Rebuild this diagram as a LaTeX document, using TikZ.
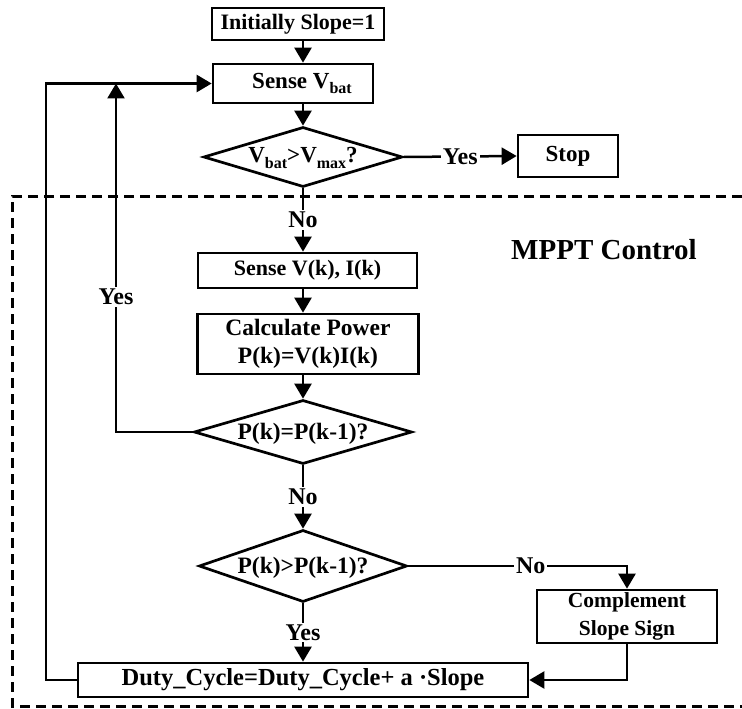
\documentclass[tikz,border=0pt]{standalone}
\usepackage{fontspec}
\setmainfont{Liberation Serif}
\usetikzlibrary{arrows.meta,shapes.geometric}
\newcommand{\mysub}[1]{\raisebox{-0.55ex}{\fontsize{16pt}{16pt}\selectfont #1}}
\newcommand{\fs}[1]{\fontsize{#1}{28pt}\selectfont\bfseries}
\begin{document}
\begin{tikzpicture}[x=1pt,y=-1pt,
  box/.style={draw, line width=2.7pt, rectangle, inner sep=0pt, align=center, font=\fs{23pt}},
  dec/.style={draw, diamond, line width=2.7pt, inner sep=0pt},
  dtext/.style={inner sep=0pt, font=\fs{23.5pt}},
  conn/.style={line width=2.5pt},
  arr/.style={conn, -{Triangle[length=15pt,width=17pt]}},
  lab/.style={fill=white, inner sep=2pt, font=\fs{24pt}},
  frame/.style={line width=3pt, dash pattern=on 10pt off 6pt},
]
\useasboundingbox (0,0) rectangle (742,709);
% dashed MPPT frame
\draw[frame] (742,196) -- (12,196) -- (12,706) -- (742,706);

\node[box, font=\fs{22pt}, minimum width=172pt, minimum height=32pt] (init) at (298,24) {Initially Slope=1};
\node[box, minimum width=160pt, minimum height=39pt] (sv) at (293,83.5) {\hspace*{18pt}Sense V\mysub{bat}};
\node[dec, minimum width=199pt, minimum height=60pt] (d0) at (303,157) {};
\node[dtext, font=\fs{23pt}] (d0t) at ([yshift=-1pt]d0.center) {V\mysub{bat}>V\mysub{max}?};
\node[box, minimum width=100pt, minimum height=42pt] (stop) at (568,156) {Stop};
\node[box, font=\fs{22pt}, minimum width=219pt, minimum height=35pt] (svi) at (307.5,270.5) {Sense V(k), I(k)};
\node[box, font=\fs{23.5pt}, minimum width=221pt, minimum height=60pt] (calc) at (308,344) {Calculate Power\\P(k)=V(k)I(k)};
\node[dec, minimum width=218pt, minimum height=64pt] (d1) at (303,432) {};
\node[dtext] (d1t) at ([yshift=-2pt]d1.center) {P(k)=P(k-1)?};
\node[dec, minimum width=208pt, minimum height=72pt] (d2) at (303,566) {};
\node[dtext] (d2t) at ([yshift=-2pt]d2.center) {P(k)>P(k-1)?};
\node[box, font=\fs{21.5pt}, minimum width=180pt, minimum height=53pt] (comp) at (627,616.5) {Complement\\Slope Sign};
\node[box, font=\fs{24.5pt}, minimum width=450pt, minimum height=34pt] (duty) at (303,680) {Duty\_Cycle=Duty\_Cycle+ a ·Slope};
\node[font=\fs{29pt}] (mppt) at (604,250) {MPPT Control};

\coordinate (lx) at (46,0);
\coordinate (yx) at (116,0);

\draw[arr] (init.south -| d1.north) -- (sv.north -| d1.north);
\draw[arr] (sv.south -| d1.north) -- (d0.north);
\draw[arr] (d0.east) -- node[lab] (yes0) {Yes} (stop.west);
\draw[arr] (d0.south) -- node[lab] (no0) {No} (svi.north -| d0.south);
\draw[arr] (svi.south -| d1.north) -- (calc.north -| d1.north);
\draw[arr] (calc.south -| d1.north) -- (d1.north);
\draw[arr] (d1.south) -- node[lab] (no1) {No} (d2.north);
\draw[arr] (d2.south) -- node[lab] (yes2) {Yes} (duty.north -| d2.south);
\draw[arr] (d2.east) -| node[lab, pos=0.28] (no2) {No} (comp.north);
\draw[arr] (comp.south) |- (duty.east);
\draw[arr] (duty.west) -- (duty.west -| lx) -- (sv.west -| lx) -- (sv.west);
\draw[arr] (d1.west) -- (d1.west -| yx) -- node[lab, pos=0.387] (yes1) {Yes} (sv.west -| yx);
\end{tikzpicture}
\end{document}
